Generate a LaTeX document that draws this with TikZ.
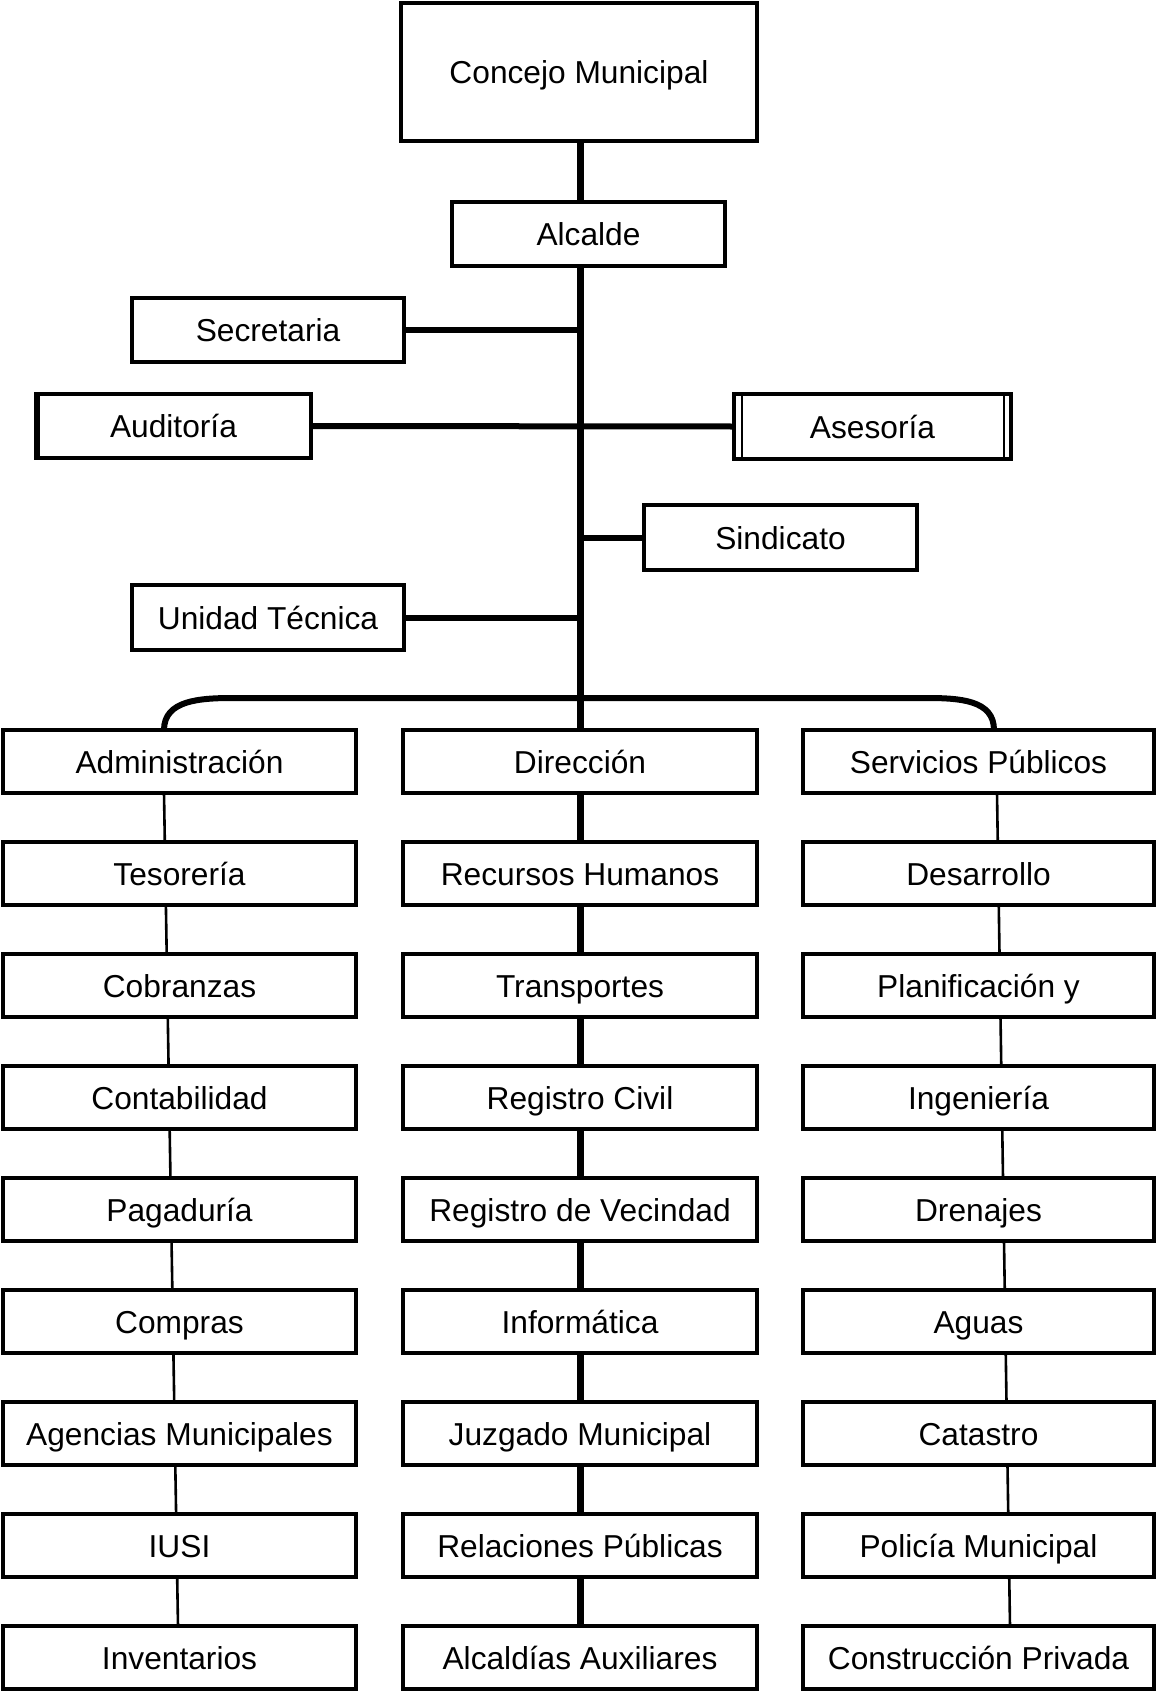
\documentclass[tikz,border=0pt]{standalone}
\usepackage{fontspec}
\setmainfont{Liberation Sans}
\begin{document}
\begin{tikzpicture}[x=1pt,y=-1pt,
  box/.style={draw, line width=3.2pt, inner sep=0pt, outer sep=0pt, fill=white,
    text height=29.5pt, text depth=6.5pt,
    font=\fontsize{31.7}{38}\selectfont},
  thickline/.style={line width=7pt},
  thinline/.style={line width=2.6pt}]
\useasboundingbox (0,0) rectangle (1157,1691);
% top part
\node[box, minimum width=356, minimum height=138] (cm) at (579,72) {Concejo Municipal};
\node[box, minimum width=273, minimum height=64] (alc) at (588.5,234) {Alcalde};
\coordinate (junc) at (580,698);
\coordinate (top) at (580,141);
\node[box, minimum width=272, minimum height=64] (sec) at (268,330) {Secretaria};
\node[box, minimum width=275, minimum height=64] (aud) at (173.5,426) {Auditoría};
\node[box, minimum width=277, minimum height=65] (ase) at (872.5,426.5) {Asesoría};
\node[box, minimum width=273, minimum height=65] (sin) at (780.5,537.5) {Sindicato};
\node[box, minimum width=272, minimum height=65] (uni) at (268,617.5) {Unidad Técnica};
% trunk and branches
\draw[thickline] (cm.south -| top) -- (junc);
\draw[line width=6pt] (sec.east) -- (sec.east -| junc);
\draw[line width=6pt] (aud.east) -- (ase.west);
\draw[line width=6pt] (sin.west) -- (sin.west -| junc);
\draw[line width=6pt] (uni.east) -- (uni.east -| junc);
% redraw boxes on top of lines
\node[box, minimum width=273, minimum height=64] at (alc) {Alcalde};
\node[box, minimum width=275, minimum height=64] at (aud) {Auditoría};
\node[box, minimum width=277, minimum height=65] at (ase) {Asesoría};
% extra edges
\draw[line width=2.4pt] ([xshift=8pt]ase.north west) -- ([xshift=8pt]ase.south west);
\draw[line width=2.4pt] ([xshift=-7pt]ase.north east) -- ([xshift=-7pt]ase.south east);
\draw[line width=5pt] ([xshift=1pt]aud.north west) -- ([xshift=1pt]aud.south west);
% columns
\foreach \t [count=\i] in {Administración,Tesorería,Cobranzas,Contabilidad,Pagaduría,Compras,Agencias Municipales,IUSI,Inventarios}
  \node[box, minimum width=353, minimum height=63] (l\i) at (179.5,{761.5+112*(\i-1)}) {\t};
\foreach \t [count=\i] in {Dirección,Recursos Humanos,Transportes,Registro Civil,Registro de Vecindad,Informática,Juzgado Municipal,Relaciones Públicas,Alcaldías Auxiliares}
  \node[box, minimum width=354, minimum height=63] (m\i) at (580,{761.5+112*(\i-1)}) {\t};
\foreach \t [count=\i] in {Servicios Públicos,Desarrollo,Planificación y,Ingeniería,Drenajes,Aguas,Catastro,Policía Municipal,Construcción Privada}
  \node[box, minimum width=351, minimum height=63] (r\i) at (978.5,{761.5+112*(\i-1)}) {\t};
% curve
\draw[line width=6pt] ([xshift=-15.5pt]l1.north) .. controls +(0,-30) and +(-34,0) .. (234,698) -- (926,698)
  .. controls +(34,0) and +(0,-30) .. ([xshift=15.5pt]r1.north);
\draw[thickline] (junc) -- (m1.north);
% column connectors
\foreach \i [evaluate=\i as \j using int(\i+1)] in {1,...,8} {
  \pgfmathsetmacro{\da}{-15.5+1.882*(\i-1)}
  \pgfmathsetmacro{\db}{-14.68+1.882*(\i-1)}
  \pgfmathsetmacro{\ra}{18.5+1.748*(\i-1)}
  \pgfmathsetmacro{\rb}{19.26+1.748*(\i-1)}
  \draw[thinline] ([xshift=\da pt]l\i.south) -- ([xshift=\db pt]l\j.north);
  \draw[thickline] (m\i.south) -- (m\j.north);
  \draw[thinline] ([xshift=\ra pt]r\i.south) -- ([xshift=\rb pt]r\j.north);
}
\end{tikzpicture}
\end{document}
